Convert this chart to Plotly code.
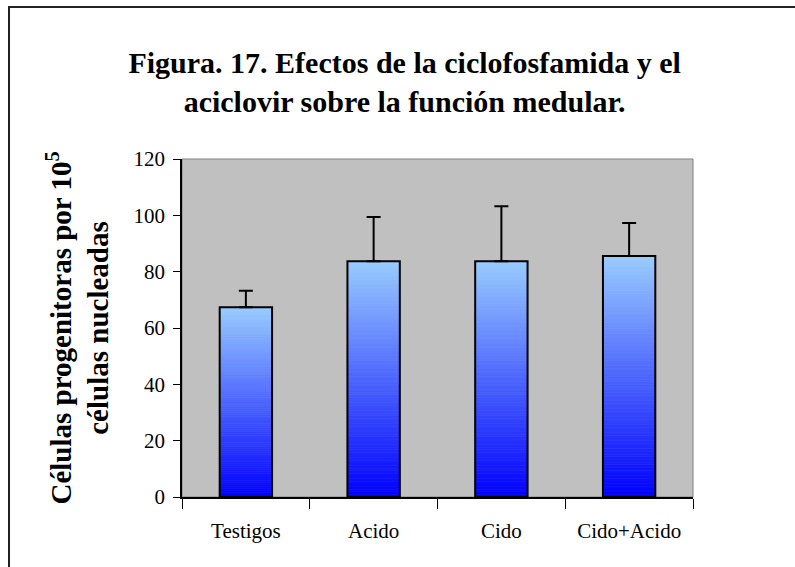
import plotly.graph_objects as go

# valores
grupos = ["Testigos", "Acido", "Cido", "Cido+Acido"]
medias = [67.4, 83.7, 83.7, 85.6]
error_sup = [5.8, 15.7, 19.5, 11.7]

titulo = "<b>Figura. 17. Efectos de la ciclofosfamida y el<br>aciclovir sobre la función medular.</b>"
titulo_y = "<b>Células progenitoras por 10<sup>5</sup><br>células nucleadas</b>"

fuente = "Liberation Serif"
fig = go.Figure()

# degradado vertical: se apilan tramos finos de cada barra
n_tramos = 90
claro = (153, 204, 255)
oscuro = (0, 0, 255)
for k in range(n_tramos):
    t = (k + 0.5) / n_tramos
    rgb = tuple(round(oscuro[i] + (claro[i] - oscuro[i]) * t) for i in range(3))
    col = "rgb(%d,%d,%d)" % rgb
    fig.add_trace(go.Bar(
        x=grupos,
        y=[m / n_tramos for m in medias],
        base=[m * k / n_tramos for m in medias],
        marker=dict(color=col, line=dict(color=col, width=0.6)),
        hoverinfo="skip", showlegend=False,
    ))

# contorno de las barras y barras de error
fig.add_trace(go.Bar(
    x=grupos, y=medias,
    marker=dict(color="rgba(0,0,0,0)", line=dict(color="black", width=2)),
    error_y=dict(type="data", symmetric=False, array=error_sup,
                 arrayminus=[0] * len(medias), color="black",
                 thickness=2, width=7),
    showlegend=False,
))

fig.update_layout(
    width=795, height=567,
    barmode="overlay", bargap=0.59,
    paper_bgcolor="white", plot_bgcolor="#C0C0C0",
    margin=dict(l=182, r=102, t=159, b=70),
    font=dict(family=fuente, color="black", size=21),
    title=dict(text=titulo, x=0.509, xanchor="center",
               y=1 - 73 / 567, yanchor="middle", yref="container",
               font=dict(family=fuente, size=30, color="black")),
    shapes=[
        dict(type="rect", xref="paper", yref="paper", x0=0, x1=1, y0=0, y1=1,
             line=dict(color="#808080", width=1), layer="below"),
        dict(type="rect", xref="paper", yref="paper",
             x0=(9 - 182) / 511, x1=1.5, y0=-0.5, y1=(497 - 7) / 338,
             line=dict(color="#222222", width=2)),
    ],
)

fig.update_xaxes(
    type="category", showline=True, linecolor="black", linewidth=1.5,
    ticks="outside", tickson="boundaries", ticklen=10, tickcolor="black",
    tickfont=dict(family=fuente, size=21), showgrid=False,
    ticklabelstandoff=14,
)
fig.update_yaxes(
    range=[0, 120], dtick=20, showline=True, linecolor="black", linewidth=1.5,
    ticks="outside", ticklen=7, tickcolor="black", showgrid=False,
    zeroline=False, tickfont=dict(family=fuente, size=21), ticklabelstandoff=4,
    title=dict(text=titulo_y, standoff=16, font=dict(family=fuente, size=29)),
)

fig.write_html("out.html", config={"displayModeBar": False},
               post_script="document.body.style.margin='0';")
